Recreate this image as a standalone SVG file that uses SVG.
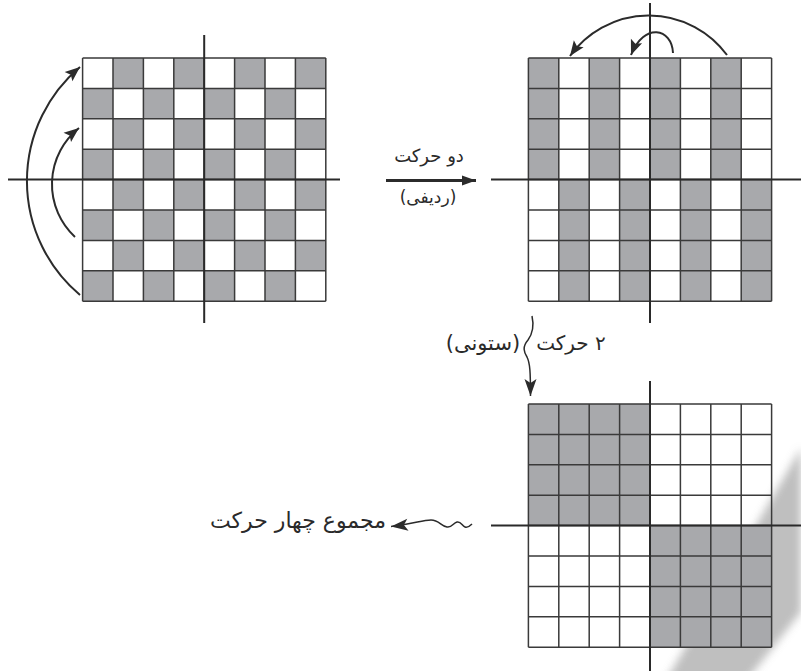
<svg xmlns="http://www.w3.org/2000/svg" xmlns:xlink="http://www.w3.org/1999/xlink" width="801" height="671" viewBox="0 0 801 671">
<style>
.g{fill:#a8a9ac}
.gl{fill:none;stroke:#3a3a3a;stroke-width:1.5}
.ax{fill:none;stroke:#2a2a2a;stroke-width:2}
.ar{fill:none;stroke:#2b2b2b;stroke-width:2}
.t{font-family:"DejaVu Sans",sans-serif;fill:#2a2a2a;direction:rtl;text-anchor:middle}
</style>
<defs>
<path id="gridlines" class="gl" d="M0 0V243.2M30.4 0V243.2M60.8 0V243.2M91.2 0V243.2M121.6 0V243.2M152 0V243.2M182.4 0V243.2M212.8 0V243.2M243.2 0V243.2M0 0H243.2M0 30.4H243.2M0 60.8H243.2M0 91.2H243.2M0 121.6H243.2M0 152H243.2M0 182.4H243.2M0 212.8H243.2M0 243.2H243.2"/>
<marker id="ah" markerUnits="userSpaceOnUse" markerWidth="16" markerHeight="12" refX="15" refY="6" orient="auto" overflow="visible">
<path d="M0 0L15 6L0 12L3 6z" fill="#2b2b2b"/>
</marker>
<marker id="ahm" markerUnits="userSpaceOnUse" markerWidth="15" markerHeight="10" refX="14" refY="5" orient="auto" overflow="visible">
<path d="M0 0L14 5L0 10z" fill="#2b2b2b"/>
</marker>
<marker id="ahd" markerUnits="userSpaceOnUse" markerWidth="18" markerHeight="12" refX="17" refY="6" orient="auto" overflow="visible">
<path d="M0 0L17 6L0 12L4 6z" fill="#2b2b2b"/>
</marker>
<filter id="blur" x="-20%" y="-20%" width="140%" height="140%"><feGaussianBlur stdDeviation="4"/></filter>
</defs>

<g id="scan-mark">
<polygon points="664,684 801,448 801,612 744,684" fill="#b4b4b4" opacity="0.85" filter="url(#blur)"/>
</g>

<g id="grid-checker">
<g transform="translate(82.6,58)">
<rect class="g" x="30.4" y="0" width="30.4" height="30.4"/><rect class="g" x="91.2" y="0" width="30.4" height="30.4"/><rect class="g" x="152" y="0" width="30.4" height="30.4"/><rect class="g" x="212.8" y="0" width="30.4" height="30.4"/>
<rect class="g" x="0" y="30.4" width="30.4" height="30.4"/><rect class="g" x="60.8" y="30.4" width="30.4" height="30.4"/><rect class="g" x="121.6" y="30.4" width="30.4" height="30.4"/><rect class="g" x="182.4" y="30.4" width="30.4" height="30.4"/>
<rect class="g" x="30.4" y="60.8" width="30.4" height="30.4"/><rect class="g" x="91.2" y="60.8" width="30.4" height="30.4"/><rect class="g" x="152" y="60.8" width="30.4" height="30.4"/><rect class="g" x="212.8" y="60.8" width="30.4" height="30.4"/>
<rect class="g" x="0" y="91.2" width="30.4" height="30.4"/><rect class="g" x="60.8" y="91.2" width="30.4" height="30.4"/><rect class="g" x="121.6" y="91.2" width="30.4" height="30.4"/><rect class="g" x="182.4" y="91.2" width="30.4" height="30.4"/>
<rect class="g" x="30.4" y="121.6" width="30.4" height="30.4"/><rect class="g" x="91.2" y="121.6" width="30.4" height="30.4"/><rect class="g" x="152" y="121.6" width="30.4" height="30.4"/><rect class="g" x="212.8" y="121.6" width="30.4" height="30.4"/>
<rect class="g" x="0" y="152" width="30.4" height="30.4"/><rect class="g" x="60.8" y="152" width="30.4" height="30.4"/><rect class="g" x="121.6" y="152" width="30.4" height="30.4"/><rect class="g" x="182.4" y="152" width="30.4" height="30.4"/>
<rect class="g" x="30.4" y="182.4" width="30.4" height="30.4"/><rect class="g" x="91.2" y="182.4" width="30.4" height="30.4"/><rect class="g" x="152" y="182.4" width="30.4" height="30.4"/><rect class="g" x="212.8" y="182.4" width="30.4" height="30.4"/>
<rect class="g" x="0" y="212.8" width="30.4" height="30.4"/><rect class="g" x="60.8" y="212.8" width="30.4" height="30.4"/><rect class="g" x="121.6" y="212.8" width="30.4" height="30.4"/><rect class="g" x="182.4" y="212.8" width="30.4" height="30.4"/>
<use xlink:href="#gridlines" href="#gridlines"/>
</g>
<path class="ax" d="M204.2 35V323M8 179.6H340"/>
</g>

<g id="grid-rows">
<g transform="translate(528.4,58)">
<rect class="g" x="0" y="0" width="30.4" height="121.6"/><rect class="g" x="60.8" y="0" width="30.4" height="121.6"/><rect class="g" x="121.6" y="0" width="30.4" height="121.6"/><rect class="g" x="182.4" y="0" width="30.4" height="121.6"/>
<rect class="g" x="30.4" y="121.6" width="30.4" height="121.6"/><rect class="g" x="91.2" y="121.6" width="30.4" height="121.6"/><rect class="g" x="152" y="121.6" width="30.4" height="121.6"/><rect class="g" x="212.8" y="121.6" width="30.4" height="121.6"/>
<use xlink:href="#gridlines" href="#gridlines"/>
</g>
<path class="ax" d="M650 3V323M491 179.6H801"/>
</g>

<g id="grid-blocks">
<g transform="translate(528.4,404)">
<rect class="g" x="0" y="0" width="121.6" height="121.6"/><rect class="g" x="121.6" y="121.6" width="121.6" height="121.6"/>
<use xlink:href="#gridlines" href="#gridlines"/>
</g>
<path class="ax" d="M650 381V671M491 525.6H801"/>
</g>

<g id="label-row-move">
<text class="t" x="429" y="162" font-size="18">دو حرکت</text>
<text class="t" x="428" y="203" font-size="17">(ردیفی)</text>
</g>
<g id="label-col-move">
<text class="t" x="571" y="350" font-size="20">۲ حرکت</text>
<text class="t" x="483" y="350" font-size="21">(ستونی)</text>
</g>
<g id="label-total">
<text class="t" x="298" y="528" font-size="22">مجموع چهار حرکت</text>
</g>

<g id="connectors">
<path class="ar" d="M80 295A149 149 0 0 1 80 67" marker-end="url(#ah)"/>
<path class="ar" d="M75 237A72 72 0 0 1 79 128" marker-end="url(#ah)"/>
<path class="ar" d="M727 55A97 97 0 0 0 570 56" marker-end="url(#ah)"/>
<path class="ar" d="M673 53C672 28 644 22 631 55" marker-end="url(#ah)"/>
<path fill="none" stroke="#2b2b2b" stroke-width="3" d="M386 180.6H476" marker-end="url(#ahm)"/>
<path fill="none" stroke="#2b2b2b" stroke-width="1.5" d="M532 316C534 325 533 333 528 340C522 347 524 352 527 357C530 363 530.5 372 530.5 396" marker-end="url(#ahd)"/>
<path fill="none" stroke="#2b2b2b" stroke-width="1.5" d="M472 524C470 526 468 528 465 527C462 526 461 521 457 522C453 523 452 528 447 527C441 526 439 520 431 520C422 520 414 524 391 526.5" marker-end="url(#ahd)"/>
</g>
</svg>
